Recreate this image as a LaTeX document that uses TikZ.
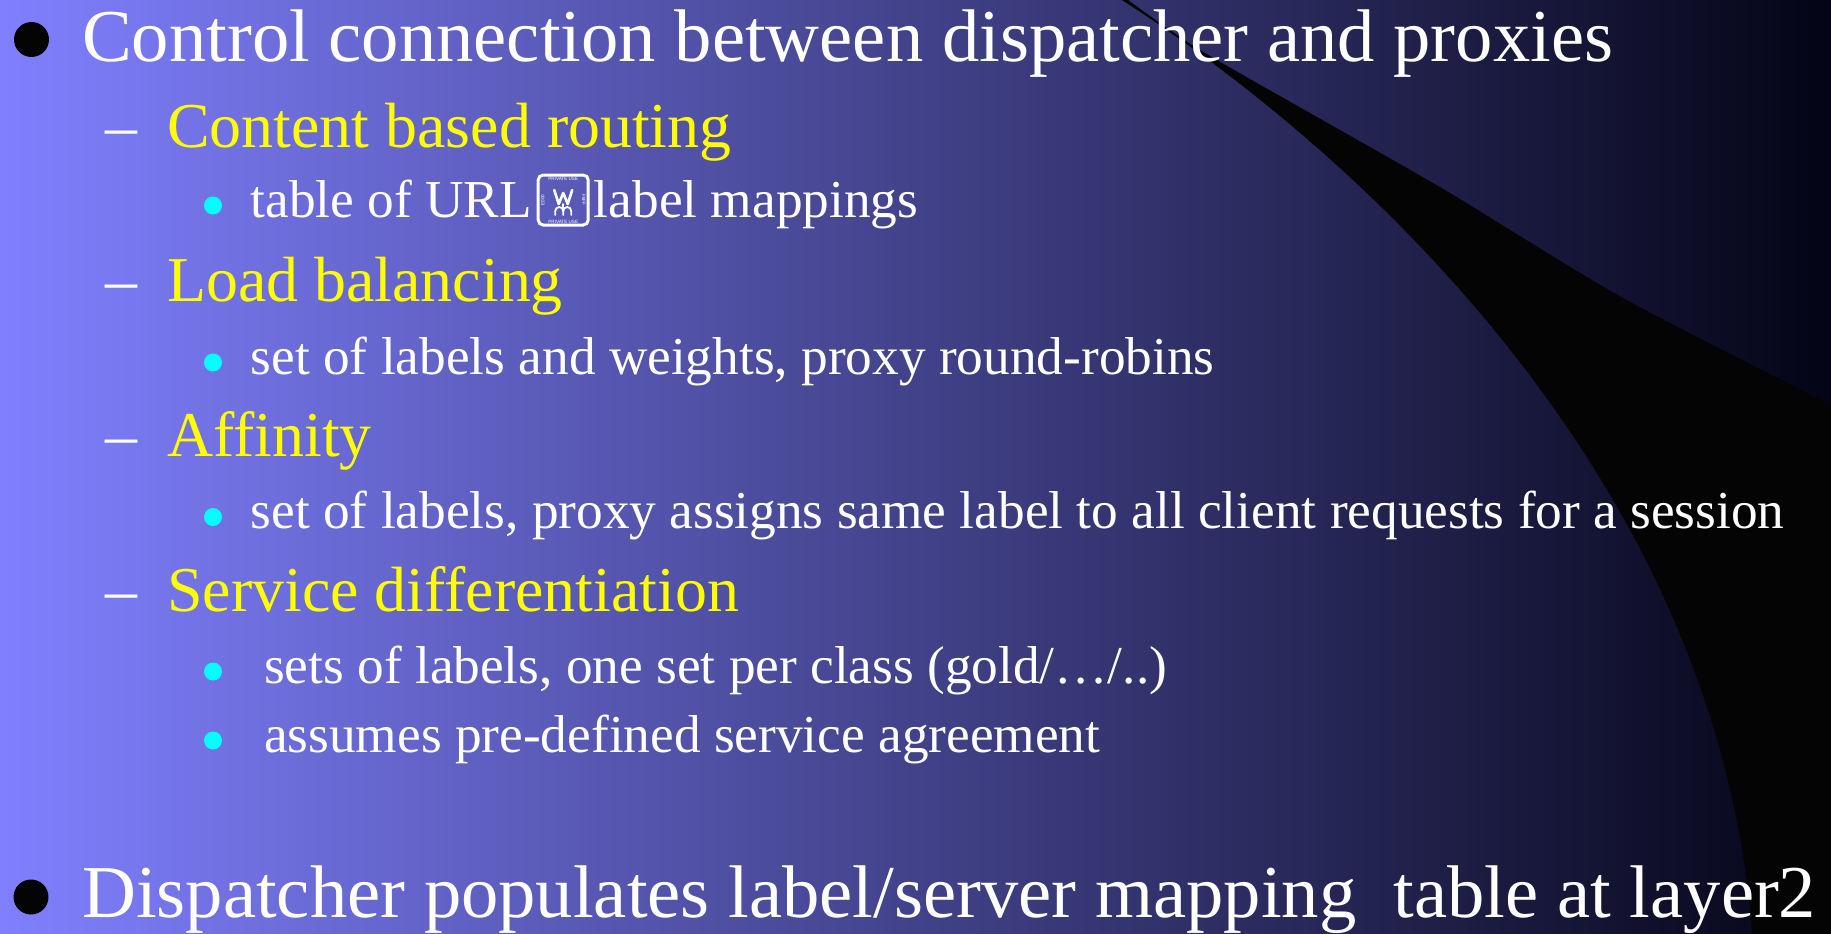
\documentclass[tikz,border=0pt]{standalone}
\usepackage{fontspec}
\setmainfont{Liberation Serif}
\newfontfamily\tinyfont{Liberation Sans}

\definecolor{bgleft}{RGB}{128,128,255}
\definecolor{bgright}{RGB}{4,4,22}
\definecolor{swoosh}{RGB}{4,4,4}
\definecolor{bulletcyan}{RGB}{0,255,255}
\definecolor{headyellow}{RGB}{255,255,0}

\begin{document}
\begin{tikzpicture}[x=1pt,y=1pt,
  lvlone/.style={font=\fontsize{74.6}{80}\selectfont, text=white, inner sep=0pt, anchor=base west},
  lvltwo/.style={font=\fontsize{63.9}{70}\selectfont, text=headyellow, inner sep=0pt, anchor=base west},
  lvldash/.style={font=\fontsize{63.9}{70}\selectfont, text=white, inner sep=0pt, anchor=base west},
  lvlthree/.style={font=\fontsize{53.3}{60}\selectfont, text=white, inner sep=0pt, anchor=base west},
  bigdot/.style={circle, fill=swoosh, minimum size=35pt, inner sep=0pt},
  smalldot/.style={circle, fill=bulletcyan, minimum size=18pt, inner sep=0pt},
  puabox/.style={draw=white, line width=3pt, rounded corners=5pt, minimum width=50pt, minimum height=50pt, inner sep=0pt},
  puatext/.style={font=\tinyfont\fontsize{4.6}{5}\selectfont, text=white, inner sep=0pt},
  puaglyph/.style={draw=white, line width=2.6pt, line cap=round, line join=round}
]
\useasboundingbox (0,0) rectangle (1831,-934);

% slide background
\shade[left color=bgleft, right color=bgright] (0,0) rectangle (1831,-934);

% black swoosh on the right
\begin{scope}
  \clip (0,0) rectangle (1831,-934);
  \fill[swoosh]
    (1122,2) -- (1122,0) .. controls (1400,-180) and (1722,-510) .. (1752,-934)
    -- (1840,-940) -- (1840,-405) -- (1831,-405)
    -- plot[smooth, tension=0.45] coordinates {(1831,-405) (1623,-298) (1450,-193)
      (1340,-130) (1200,-50) (1128,0)}
    -- (1128,2) -- cycle;
\end{scope}

% first bullet
\node[bigdot] (b1) at (31.5,-39.5) {};
\node[lvlone] (t1) at (82,-61.5) {Control connection between dispatcher and proxies};

% content based routing
\node[lvldash] (d1) at (105,-147) {–};
\node[lvltwo] (h1) at (167,-147) {Content based routing};
\node[smalldot] (c1) at (213,-205.5) {};
\node[lvlthree] (s1a) at (250.6,-217) {table of URL};
\node[puabox] (pua) at ([xshift=31pt, yshift=17pt]s1a.base east) {};
\node[puatext] (puatop) at ([yshift=-5pt]pua.north) {PRIVATE USE};
\node[puatext] (puabot) at ([yshift=5pt]pua.south) {PRIVATE USE};
\node[puatext, rotate=90] (pualeft) at ([xshift=6pt]pua.west) {E000};
\node[puatext, rotate=-90] (puaright) at ([xshift=-6pt]pua.east) {F8FF};
\draw[puaglyph] ([shift={(-9,10)}]pua.center) -- ([shift={(-4.5,-4)}]pua.center)
  -- ([shift={(0,7)}]pua.center) -- ([shift={(4.5,-4)}]pua.center) -- ([shift={(9,10)}]pua.center);
\draw[puaglyph, line width=1.8pt] ([shift={(-8,-15)}]pua.center) -- ([shift={(-8,-11)}]pua.center)
  arc[start angle=180, end angle=0, radius=4pt] -- ([shift={(0,-15)}]pua.center);
\draw[puaglyph, line width=1.8pt] ([shift={(0,-11)}]pua.center)
  arc[start angle=180, end angle=0, radius=4pt] -- ([shift={(8,-15)}]pua.center);
\draw[puaglyph, line width=1.8pt] ([shift={(0,-4)}]pua.center) -- ([shift={(0,-11)}]pua.center);
\node[lvlthree] (s1b) at ([xshift=4pt]pua.east |- s1a.base) {label mappings};

% load balancing
\node[lvldash] (d2) at (105,-301) {–};
\node[lvltwo] (h2) at (167,-301) {Load balancing};
\node[smalldot] (c2) at (213,-362.5) {};
\node[lvlthree] (s2) at (250.6,-374) {set of labels and weights, proxy round-robins};

% affinity
\node[lvldash] (d3) at (105,-456) {–};
\node[lvltwo] (h3) at (167,-456) {Affinity};
\node[smalldot] (c3) at (213,-517) {};
\node[lvlthree] (s3) at (250.6,-528.5) {set of labels, proxy assigns same label to all client requests for a session};

% service differentiation
\node[lvldash] (d4) at (105,-611) {–};
\node[lvltwo] (h4) at (167,-611) {Service differentiation};
\node[smalldot] (c4) at (213,-671.5) {};
\node[lvlthree] (s4) at (264,-683) {sets of labels, one set per class (gold/…/..)};
\node[smalldot] (c5) at (213,-740.5) {};
\node[lvlthree] (s5) at (264,-752) {assumes pre-defined service agreement};

% second bullet
\node[bigdot] (b2) at (31,-897) {};
\node[lvlone] (t2) at (82,-917) {Dispatcher populates label/server mapping\ \ table at layer2};
\end{tikzpicture}
\end{document}
